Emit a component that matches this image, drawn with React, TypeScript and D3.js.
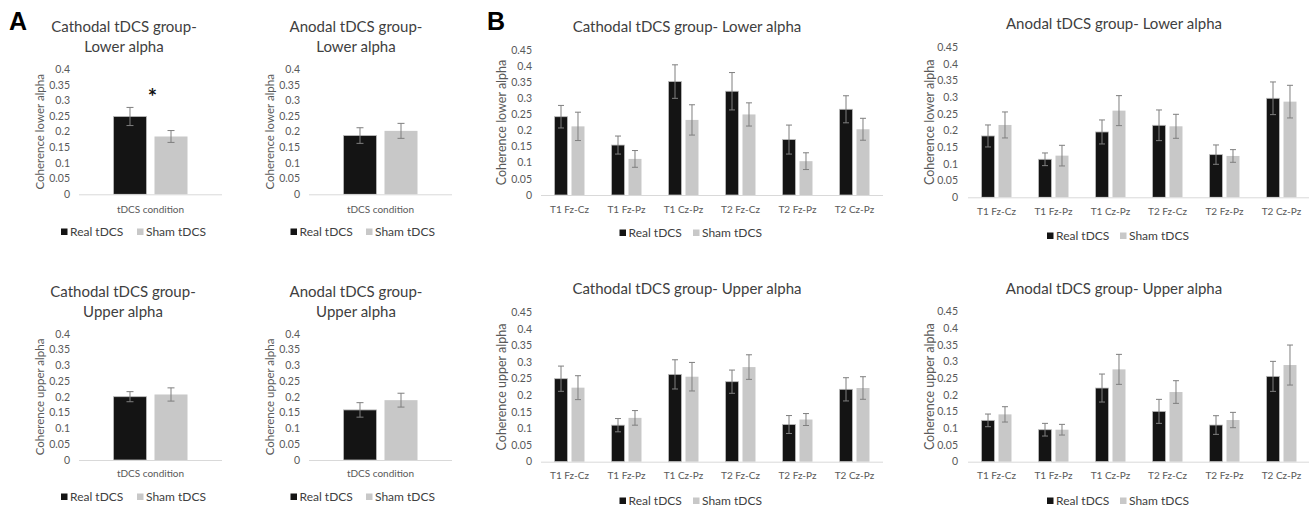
import React from 'react';
import * as d3 from 'd3';

// values (coherence, mean and error)
const conditionA = ['tDCS condition'];
const sites = ['T1 Fz-Cz', 'T1 Fz-Pz', 'T1 Cz-Pz', 'T2 Fz-Cz', 'T2 Fz-Pz', 'T2 Cz-Pz'];
const seriesNames = ['Real tDCS', 'Sham tDCS'];

const ticksA = [0, 0.05, 0.1, 0.15, 0.2, 0.25, 0.3, 0.35, 0.4];
const ticksB = [0, 0.05, 0.1, 0.15, 0.2, 0.25, 0.3, 0.35, 0.4, 0.45];

// A: overall
const cathLowRealA = [0.249];
const cathLowRealErrA = [0.029];
const cathLowShamA = [0.185];
const cathLowShamErrA = [0.019];

const anoLowRealA = [0.188];
const anoLowRealErrA = [0.025];
const anoLowShamA = [0.203];
const anoLowShamErrA = [0.024];

const cathUpRealA = [0.201];
const cathUpRealErrA = [0.016];
const cathUpShamA = [0.208];
const cathUpShamErrA = [0.021];

const anoUpRealA = [0.159];
const anoUpRealErrA = [0.023];
const anoUpShamA = [0.19];
const anoUpShamErrA = [0.022];

// B: per site and time
const cathLowReal = [0.243, 0.155, 0.352, 0.322, 0.172, 0.266];
const cathLowRealErr = [0.035, 0.028, 0.052, 0.058, 0.045, 0.042];
const cathLowSham = [0.213, 0.112, 0.233, 0.25, 0.105, 0.204];
const cathLowShamErr = [0.044, 0.026, 0.047, 0.036, 0.026, 0.034];

const anoLowReal = [0.184, 0.114, 0.196, 0.216, 0.128, 0.297];
const anoLowRealErr = [0.033, 0.019, 0.036, 0.046, 0.029, 0.049];
const anoLowSham = [0.217, 0.125, 0.26, 0.213, 0.124, 0.287];
const anoLowShamErr = [0.039, 0.031, 0.045, 0.036, 0.019, 0.049];

const cathUpReal = [0.25, 0.11, 0.263, 0.241, 0.112, 0.218];
const cathUpRealErr = [0.038, 0.02, 0.044, 0.035, 0.027, 0.035];
const cathUpSham = [0.223, 0.132, 0.256, 0.285, 0.127, 0.222];
const cathUpShamErr = [0.036, 0.022, 0.043, 0.037, 0.018, 0.034];

const anoUpReal = [0.124, 0.096, 0.221, 0.151, 0.11, 0.256];
const anoUpRealErr = [0.019, 0.019, 0.042, 0.036, 0.028, 0.045];
const anoUpSham = [0.142, 0.096, 0.277, 0.209, 0.125, 0.29];
const anoUpShamErr = [0.023, 0.016, 0.045, 0.034, 0.023, 0.06];

const FONT = 'Lato, "Open Sans", sans-serif';
const REAL_FILL = '#141414';
const SHAM_FILL = '#c8c8c8';

type PanelProps = {
  title: string[];
  yLabel: string;
  cats: string[];
  real: number[];
  realErr: number[];
  sham: number[];
  shamErr: number[];
  ticks: number[];
  x0: number;
  x1: number;
  y0: number;
  yTop: number;
  pad: number[];
  cap: number;
  tickX: number;
  yLabelX: number;
  yLabelSize: number;
  titleX: number;
  titleY: number;
  catY: number;
  legY: number;
  legX: number[];
  star?: boolean;
};

function Panel(p: PanelProps) {
  const yMax = p.ticks[p.ticks.length - 1];
  const y = d3.scaleLinear().domain([0, yMax]).range([p.y0, p.yTop]);
  const x = d3.scaleBand<string>().domain(p.cats).range([p.x0, p.x1]).paddingInner(p.pad[0]).paddingOuter(p.pad[1]);
  const sub = d3.scaleBand<string>().domain(seriesNames).range([0, x.bandwidth()]).paddingInner(p.pad[2]);
  const series = [
    { name: seriesNames[0], vals: p.real, errs: p.realErr, fill: REAL_FILL },
    { name: seriesNames[1], vals: p.sham, errs: p.shamErr, fill: SHAM_FILL },
  ];
  const fmt = (v: number) => String(+v.toFixed(2));
  const midY = (p.y0 + p.yTop) / 2;

  return (
    <g>
      {p.title.map((t, i) => (
        <text key={i} x={p.titleX} y={p.titleY + i * 20} textAnchor="middle" fontSize={15} fill="#404040" fontFamily={FONT}>
          {t}
        </text>
      ))}
      {p.ticks.map((t) => (
        <text key={t} x={p.tickX} y={y(t)} dy="0.35em" textAnchor="end" fontSize={10.5} fill="#595959" fontFamily={FONT}>
          {fmt(t)}
        </text>
      ))}
      <text
        transform={`translate(${p.yLabelX},${midY}) rotate(-90)`}
        dy="0.35em"
        textAnchor="middle"
        fontSize={p.yLabelSize}
        fill="#595959"
        fontFamily={FONT}
      >
        {p.yLabel}
      </text>
      {p.cats.map((c, i) => (
        <g key={c}>
          {series.map((s) => {
            const bx = (x(c) as number) + (sub(s.name) as number);
            const bw = sub.bandwidth();
            const v = s.vals[i];
            const e = s.errs[i];
            const cx = bx + bw / 2;
            return (
              <g key={s.name}>
                <rect x={bx} y={y(v)} width={bw} height={p.y0 - y(v)} fill={s.fill} stroke={s.fill === REAL_FILL ? '#bdbdbd' : 'none'} strokeWidth={0.8} />
                <line x1={cx} x2={cx} y1={y(v + e)} y2={y(v - e)} stroke="#7f7f7f" strokeWidth={1} />
                <line x1={cx - p.cap / 2} x2={cx + p.cap / 2} y1={y(v + e)} y2={y(v + e)} stroke="#7f7f7f" strokeWidth={1} />
                <line x1={cx - p.cap / 2} x2={cx + p.cap / 2} y1={y(v - e)} y2={y(v - e)} stroke="#7f7f7f" strokeWidth={1} />
              </g>
            );
          })}
          <text x={(x(c) as number) + x.bandwidth() / 2} y={p.catY} textAnchor="middle" fontSize={10} fill="#595959" fontFamily={FONT}>
            {c}
          </text>
        </g>
      ))}
      <line x1={p.x0} x2={p.x1} y1={p.y0 + 0.5} y2={p.y0 + 0.5} stroke="#d9d9d9" strokeWidth={1} />
      {p.star && (
        <text
          x={(x(p.cats[0]) as number) + x.bandwidth() / 2 + 2}
          y={y(p.real[0] + p.realErr[0]) - 2}
          textAnchor="middle"
          fontSize={22}
          fontWeight="bold"
          fill="#111"
          fontFamily={FONT}
        >
          *
        </text>
      )}
      {series.map((s, i) => (
        <g key={s.name}>
          <rect x={p.legX[i]} y={p.legY - 7} width={6.5} height={6.5} fill={s.fill} />
          <text x={p.legX[i] + 9} y={p.legY} fontSize={12} fill="#404040" fontFamily={FONT}>
            {s.name}
          </text>
        </g>
      ))}
    </g>
  );
}

export default function App() {
  const padA = [0, 0.466, 0.195];
  const padB = [0.474, 0.237, 0.235];
  const letter = '"Liberation Sans", Arial, sans-serif';
  return (
    <svg width={1309} height={507} style={{ position: 'absolute', left: 0, top: 0, background: '#fff' }}>
      <rect width={1309} height={507} fill="#fff" />
      <text x={9} y={30} fontSize={25} fontWeight="bold" fontFamily={letter} fill="#000">A</text>
      <text x={487} y={30} fontSize={25} fontWeight="bold" fontFamily={letter} fill="#000">B</text>

      <Panel title={['Cathodal tDCS group-', 'Lower alpha']} yLabel="Coherence lower alpha" cats={conditionA}
        real={cathLowRealA} realErr={cathLowRealErrA} sham={cathLowShamA} shamErr={cathLowShamErrA} ticks={ticksA}
        x0={79} x1={222} y0={194.3} yTop={69.3} pad={padA} cap={7} tickX={70} yLabelX={40} yLabelSize={11.5} titleX={124} titleY={31.5}
        catY={212.5} legY={235.5} legX={[61, 137]} star />
      <Panel title={['Anodal tDCS group-', 'Lower alpha']} yLabel="Coherence lower alpha" cats={conditionA}
        real={anoLowRealA} realErr={anoLowRealErrA} sham={anoLowShamA} shamErr={anoLowShamErrA} ticks={ticksA}
        x0={309} x1={452} y0={194.3} yTop={69.3} pad={padA} cap={7} tickX={300} yLabelX={270} yLabelSize={11.5} titleX={356} titleY={31.5}
        catY={212.5} legY={235.5} legX={[290.5, 366]} />
      <Panel title={['Cathodal tDCS group-', 'Upper alpha']} yLabel="Coherence upper alpha" cats={conditionA}
        real={cathUpRealA} realErr={cathUpRealErrA} sham={cathUpShamA} shamErr={cathUpShamErrA} ticks={ticksA}
        x0={79} x1={222} y0={460} yTop={334} pad={padA} cap={7} tickX={70} yLabelX={40} yLabelSize={11.5} titleX={123} titleY={297}
        catY={476.5} legY={500.5} legX={[61, 137]} />
      <Panel title={['Anodal tDCS group-', 'Upper alpha']} yLabel="Coherence upper alpha" cats={conditionA}
        real={anoUpRealA} realErr={anoUpRealErrA} sham={anoUpShamA} shamErr={anoUpShamErrA} ticks={ticksA}
        x0={309} x1={452} y0={460} yTop={334} pad={padA} cap={7} tickX={300} yLabelX={270} yLabelSize={11.5} titleX={356} titleY={297}
        catY={476.5} legY={500.5} legX={[290.5, 366]} />

      <Panel title={['Cathodal tDCS group- Lower alpha']} yLabel="Coherence lower alpha" cats={sites}
        real={cathLowReal} realErr={cathLowRealErr} sham={cathLowSham} shamErr={cathLowShamErr} ticks={ticksB}
        x0={541} x1={883} y0={195} yTop={50} pad={padB} cap={6} tickX={532} yLabelX={502} yLabelSize={12.5} titleX={687} titleY={31.5}
        catY={213.3} legY={236.5} legX={[619.5, 693]} />
      <Panel title={['Anodal tDCS group- Lower alpha']} yLabel="Coherence lower alpha" cats={sites}
        real={anoLowReal} realErr={anoLowRealErr} sham={anoLowSham} shamErr={anoLowShamErr} ticks={ticksB}
        x0={968} x1={1310} y0={197.3} yTop={47.3} pad={padB} cap={6} tickX={958} yLabelX={930} yLabelSize={12.5} titleX={1114} titleY={29.3}
        catY={215} legY={239.5} legX={[1047, 1120]} />
      <Panel title={['Cathodal tDCS group- Upper alpha']} yLabel="Coherence upper alpha" cats={sites}
        real={cathUpReal} realErr={cathUpRealErr} sham={cathUpSham} shamErr={cathUpShamErr} ticks={ticksB}
        x0={541} x1={883} y0={461.7} yTop={312.3} pad={padB} cap={6} tickX={532} yLabelX={502} yLabelSize={12.5} titleX={687} titleY={294}
        catY={479.3} legY={504.5} legX={[619.5, 693]} />
      <Panel title={['Anodal tDCS group- Upper alpha']} yLabel="Coherence upper alpha" cats={sites}
        real={anoUpReal} realErr={anoUpRealErr} sham={anoUpSham} shamErr={anoUpShamErr} ticks={ticksB}
        x0={968} x1={1310} y0={461.7} yTop={311.7} pad={padB} cap={6} tickX={958} yLabelX={930} yLabelSize={12.5} titleX={1114} titleY={294}
        catY={479.3} legY={504.5} legX={[1047, 1120]} />
    </svg>
  );
}
